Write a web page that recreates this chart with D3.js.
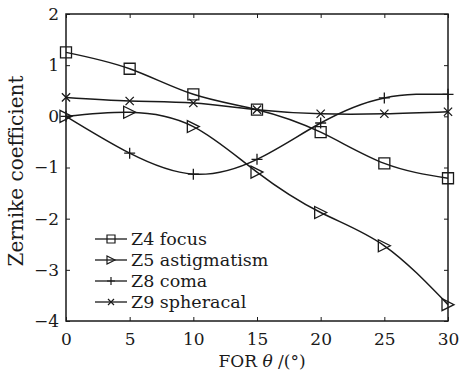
<!DOCTYPE html>
<html>
<head>
<meta charset="utf-8">
<style>
    body { margin: 0; background: #fff; }
    svg { font-family: 'DejaVu Serif', serif; }
</style>
</head>
<body>
<svg width="463" height="375"></svg>
<script src="https://d3js.org/d3.v7.min.js"></script>
<script>
    // angles (FOR theta, degrees)
    let theta = [0, 5, 10, 15, 20, 25, 30]
    let z4 = [1.25, 0.93, 0.43, 0.13, -0.31, -0.92, -1.21]
    let z5 = [0.0, 0.08, -0.2, -1.09, -1.88, -2.53, -3.68]
    let z8 = [0.0, -0.72, -1.13, -0.84, -0.13, 0.36, 0.43]
    let z9 = [0.37, 0.3, 0.26, 0.13, 0.05, 0.05, 0.09]
    let xTicks = [0, 5, 10, 15, 20, 25, 30]
    let yTicks = [-4, -3, -2, -1, 0, 1, 2]
    let names = ["Z4 focus", "Z5 astigmatism", "Z8 coma", "Z9 spheracal"]
    let markers = ["square", "triangle", "plus", "cross"]

    let series = [z4, z5, z8, z9].map((v, i) => ({
        name: names[i], marker: markers[i],
        pts: v.map((y, j) => ({ x: theta[j], y: y }))
    }))

    let svg = d3.select("svg")
    let mLeft = 66, mRight = 448, mTop = 14, mBottom = 321
    let x = d3.scaleLinear().domain([0, 30]).range([mLeft, mRight])
    let y = d3.scaleLinear().domain([-4, 2]).range([mBottom, mTop])
    let ink = "#1a1a1a"

    // box
    svg.append("rect")
        .attr("x", mLeft).attr("y", mTop)
        .attr("width", mRight - mLeft).attr("height", mBottom - mTop)
        .style("fill", "none").style("stroke", ink).style("stroke-width", 1.5)

    // axes with inward ticks
    let xb = svg.append("g").attr("transform", `translate(0,${mBottom})`)
        .call(d3.axisBottom(x).tickValues(xTicks).tickSizeInner(-4).tickSizeOuter(0).tickPadding(12))
    let xt = svg.append("g").attr("transform", `translate(0,${mTop})`)
        .call(d3.axisTop(x).tickValues(xTicks).tickSizeInner(-4).tickSizeOuter(0).tickFormat(""))
    let yl = svg.append("g").attr("transform", `translate(${mLeft},0)`)
        .call(d3.axisLeft(y).tickValues(yTicks).tickSizeInner(-4).tickSizeOuter(0).tickPadding(7)
            .tickFormat(d => d < 0 ? "\u2212" + Math.abs(d) : d))
    let yr = svg.append("g").attr("transform", `translate(${mRight},0)`)
        .call(d3.axisRight(y).tickValues(yTicks).tickSizeInner(-4).tickSizeOuter(0).tickFormat(""))
    ;[xb, xt, yl, yr].forEach(g => {
        g.select(".domain").remove()
        g.selectAll("line").style("stroke", ink).style("stroke-width", 1)
        g.selectAll("text").style("font-family", "'DejaVu Serif', serif")
            .style("font-size", "17px").style("fill", ink)
    })

    // curves
    let line = d3.line().x(d => x(d.x)).y(d => y(d.y)).curve(d3.curveNatural)
    svg.append("g").selectAll("path")
        .data(series)
        .join("path")
        .attr("d", d => line(d.pts))
        .style("fill", "none").style("stroke", ink).style("stroke-width", 1.5)

    function markerPath(type, s) {
        let h = s / 2
        if (type == "square") return `M${-h},${-h}h${s}v${s}h${-s}Z`
        if (type == "triangle") return `M${-h},${-h}L${h},0L${-h},${h}Z`
        if (type == "plus") return `M${-h},0H${h}M0,${-h}V${h}`
        return `M${-h * 0.75},${-h * 0.75}L${h * 0.75},${h * 0.75}M${-h * 0.75},${h * 0.75}L${h * 0.75},${-h * 0.75}`
    }

    series.forEach(s => {
        svg.append("g").selectAll("path")
            .data(s.pts)
            .join("path")
            .attr("transform", d => `translate(${x(d.x)},${y(d.y)})`)
            .attr("d", markerPath(s.marker, s.marker == "triangle" ? 12 : 11))
            .style("fill", "none").style("stroke", ink).style("stroke-width", 1.3)
    })

    // legend
    let leg = svg.append("g").selectAll("g")
        .data(series)
        .join("g")
        .attr("transform", (d, i) => `translate(95,${239 + i * 21})`)
    leg.append("line").attr("x1", 0).attr("x2", 32)
        .style("stroke", ink).style("stroke-width", 1.3)
    leg.append("path").attr("transform", "translate(16,0)")
        .attr("d", d => markerPath(d.marker, 8))
        .style("fill", "none").style("stroke", ink).style("stroke-width", 1.2)
    leg.append("text").attr("x", 36).attr("y", 6)
        .style("font-size", "17.5px").style("fill", ink)
        .text(d => d.name)

    // axis titles
    svg.append("text")
        .attr("x", 262).attr("y", 367)
        .attr("text-anchor", "middle")
        .style("font-size", "17px").style("fill", ink)
        .html("FOR <tspan font-style='italic'>\u03b8</tspan> /(\u00b0)")
    svg.append("text")
        .attr("transform", "translate(23,171) rotate(-90)")
        .attr("text-anchor", "middle")
        .style("font-size", "20px").style("fill", ink)
        .text("Zernike coefficient")
</script>
</body>
</html>
